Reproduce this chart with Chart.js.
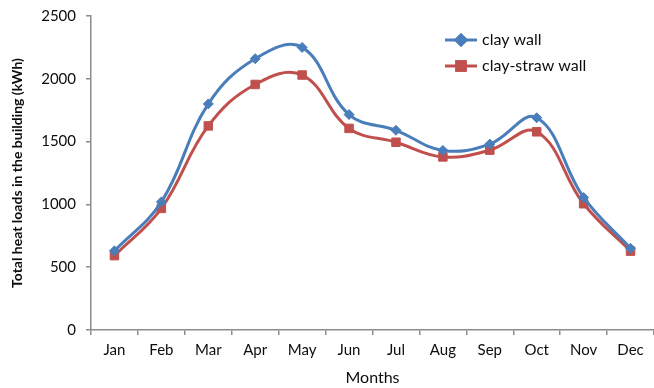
<!DOCTYPE html>
<html>
<head>
<meta charset="utf-8">
<script src="https://cdn.jsdelivr.net/npm/chart.js@4/dist/chart.umd.min.js"></script>
<style>
  html, body { margin: 0; padding: 0; background: #fff; }
  #wrap { width: 654px; height: 388px; position: relative; }
</style>
</head>
<body>
<div id="wrap"><canvas id="c" width="654" height="388"></canvas></div>
<script>
// Monthly total heat loads (kWh) for two wall types
const months = ["Jan", "Feb", "Mar", "Apr", "May", "Jun", "Jul", "Aug", "Sep", "Oct", "Nov", "Dec"];
const clayWall = [630, 1020, 1800, 2160, 2250, 1715, 1590, 1430, 1480, 1690, 1055, 650];
const clayStrawWall = [592, 968, 1625, 1955, 2030, 1605, 1495, 1378, 1432, 1578, 1005, 628];
const yTicks = [0, 500, 1000, 1500, 2000, 2500];

const FONT = "Lato, 'Open Sans', sans-serif";
const AXIS = "#8c8c8c";
const BLUE = "#4a7ebb";
const RED = "#c0504d";
const TEXT = "#0d0d0d";

// Legend drawn in the upper right of the plot
const legendPlugin = {
  id: "cornerLegend",
  afterDraw(chart) {
    const ctx = chart.ctx;
    const items = chart.data.datasets;
    const x0 = 445, x1 = 477, tx = 482;
    const ys = [40, 66];
    ctx.save();
    items.forEach((ds, i) => {
      const y = ys[i];
      ctx.strokeStyle = ds.borderColor;
      ctx.lineWidth = 3;
      ctx.beginPath();
      ctx.moveTo(x0, y);
      ctx.lineTo(x1, y);
      ctx.stroke();
      Chart.helpers.drawPoint(ctx, {
        pointStyle: ds.pointStyle,
        radius: ds.pointRadius,
        rotation: 0,
        borderWidth: 1
      }, (x0 + x1) / 2, y);
      ctx.fillStyle = ds.pointBackgroundColor;
      ctx.strokeStyle = ds.pointBorderColor;
      ctx.fill();
      ctx.stroke();
      ctx.fillStyle = TEXT;
      ctx.font = "16px " + FONT;
      ctx.textBaseline = "middle";
      ctx.textAlign = "left";
      ctx.fillText(ds.label, tx, y);
    });
    ctx.restore();
  }
};

new Chart(document.getElementById("c"), {
  type: "line",
  data: {
    labels: months,
    datasets: [
      {
        label: "clay wall",
        data: clayWall,
        borderColor: BLUE,
        backgroundColor: BLUE,
        borderWidth: 3,
        tension: 0.4,
        pointStyle: "rectRot",
        pointRadius: 5,
        pointBackgroundColor: BLUE,
        pointBorderColor: BLUE,
        pointBorderWidth: 1
      },
      {
        label: "clay-straw wall",
        data: clayStrawWall,
        borderColor: RED,
        backgroundColor: RED,
        borderWidth: 3,
        tension: 0.4,
        pointStyle: "rect",
        pointRadius: 6,
        pointBackgroundColor: RED,
        pointBorderColor: RED,
        pointBorderWidth: 1
      }
    ]
  },
  options: {
    responsive: false,
    animation: false,
    layout: { autoPadding: false, padding: { top: 16, right: -3, left: 0, bottom: 0 } },
    plugins: {
      legend: { display: false },
      tooltip: { enabled: false }
    },
    scales: {
      x: {
        offset: true,
        grid: {
          display: true,
          offset: true,
          drawOnChartArea: false,
          drawTicks: true,
          tickLength: 5,
          color: AXIS,
          lineWidth: 1.5
        },
        border: { display: true, color: AXIS, width: 1.5 },
        ticks: {
          color: TEXT,
          font: { family: FONT, size: 15 },
          padding: 6,
          maxRotation: 0,
          autoSkip: false
        },
        title: {
          display: true,
          text: "Months",
          color: TEXT,
          font: { family: FONT, size: 16 },
          padding: { top: 0, bottom: 1 }
        },
        afterFit(scale) {
          scale.height = 58;
          scale.paddingLeft = 0;
          scale.paddingRight = 0;
        }
      },
      y: {
        min: 0,
        max: 2500,
        afterBuildTicks(scale) { scale.ticks = yTicks.map(v => ({ value: v })); },
        grid: {
          display: true,
          drawOnChartArea: false,
          drawTicks: true,
          tickLength: 5,
          color: AXIS,
          lineWidth: 1.5
        },
        border: { display: true, color: AXIS, width: 1.5 },
        ticks: {
          color: TEXT,
          font: { family: FONT, size: 15 },
          padding: 10,
          callback: (v) => String(v)
        },
        title: {
          display: true,
          text: "Total heat loads in the building (kWh)",
          color: TEXT,
          font: { family: FONT, size: 14, weight: "bold" },
          padding: { top: 9, bottom: 0 }
        },
        afterFit(scale) {
          scale.width = 91;
          scale.paddingTop = 0;
          scale.paddingBottom = 0;
        }
      }
    }
  },
  plugins: [legendPlugin]
});
</script>
</body>
</html>
